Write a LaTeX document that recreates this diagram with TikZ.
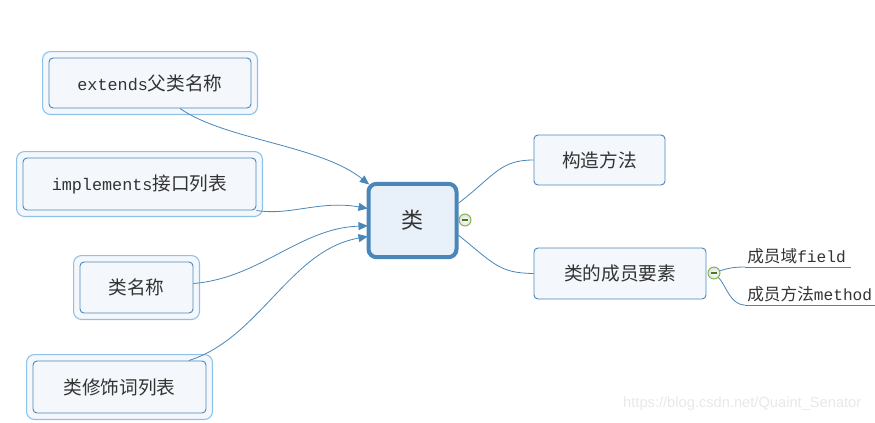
\documentclass[tikz,border=0pt]{standalone}
\usepackage{fontspec}
\setmainfont{Noto Sans CJK SC}
\setmonofont[Scale=0.9]{Liberation Mono}
\newfontfamily\leafmono[Scale=0.97]{Liberation Mono}
\newfontfamily\markfont{Liberation Sans}
\usetikzlibrary{arrows.meta,fit,backgrounds}
\definecolor{boxline}{HTML}{4A86B8}
\definecolor{outerline}{HTML}{8FC0E6}
\definecolor{boxfill}{HTML}{F4F8FC}
\definecolor{clsfill}{HTML}{E8F0FA}
\definecolor{txt}{HTML}{333333}
\definecolor{togglegreen}{HTML}{6AAE2E}
\tikzset{
  topic/.style={draw=boxline, fill=boxfill, rounded corners=3pt, line width=0.7pt,
    text=txt, font=\fontsize{14}{16}\selectfont, inner sep=0pt},
  outerbox/.style={draw=outerline, fill=boxfill, rounded corners=6pt, line width=0.8pt, inner sep=4.5pt},
  central/.style={draw=boxline, fill=clsfill, rounded corners=6pt, line width=3pt,
    text=txt, font=\fontsize{16.5}{18}\selectfont, minimum width=66pt, minimum height=55pt},
  leaf/.style={text=txt, font=\fontsize{12.5}{14}\selectfont, inner xsep=1.5pt, inner ysep=2pt},
  link/.style={draw=boxline, line width=0.6pt},
  toarrow/.style={link, -{Triangle[length=7pt,width=6pt]}},
  toggle/.style={circle, draw=togglegreen, line width=0.6pt, inner color=white, outer color=gray!25,
    minimum size=9pt, inner sep=0pt,
    path picture={\draw[togglegreen!70!black, line width=0.8pt] ([xshift=-2.2pt]path picture bounding box.center) -- ([xshift=2.2pt]path picture bounding box.center);}}
}
\begin{document}
\begin{tikzpicture}[x=0.75pt, y=-0.75pt]
\useasboundingbox (0,0) rectangle (875,422);
% left topics
\node[topic, minimum width=151.5pt, minimum height=37.5pt] (ext) at (150,83) {\texttt{extends}父类名称};
\node[topic, minimum width=174.75pt, minimum height=39pt] (impl) at (139.5,184) {\texttt{implements}接口列表};
\node[topic, minimum width=84.75pt, minimum height=38.25pt] (name) at (136.5,287.5) {类名称};
\node[topic, minimum width=129.75pt, minimum height=39pt] (mod) at (119.5,387) {类修饰词列表};
\begin{scope}[on background layer]
\foreach \n in {ext, impl, name, mod} \node[outerbox, fit=(\n)] {};
\end{scope}
% centre
\node[central] (cls) at (412.5,220.5) {类};
\node[toggle] (m1) at (465,220) {};
% right topics
\node[topic, minimum width=98.25pt, minimum height=37.5pt] (ctor) at (599.5,160) {构造方法};
\node[topic, minimum width=129pt, minimum height=38.25pt] (member) at (620,273.5) {类的成员要素};
\node[toggle] (m2) at (714,273) {};
\node[leaf, anchor=south west] (fld) at (745,267) {成员域{\leafmono field}};
\node[leaf, anchor=south west] (meth) at (745,305) {成员方法{\leafmono method}};
\draw[link] (fld.south west) -- ([xshift=2pt]fld.south east);
\draw[link] (meth.south west) -- ([xshift=2pt]meth.south east);
% arrows into the class
\draw[toarrow] ([xshift=22.5pt]ext.south) .. controls (225,140) and (320,145) .. ([yshift=27pt,xshift=2pt]cls.west);
\draw[toarrow] (impl.south east) .. controls (290,216) and (320,200) .. ([yshift=9pt,xshift=1pt]cls.west);
\draw[toarrow] ([yshift=3pt]name.east) .. controls (260,278) and (300,228) .. ([yshift=-4pt,xshift=1pt]cls.west);
\draw[toarrow] ([xshift=52pt]mod.north) .. controls (260,338) and (290,250) .. ([yshift=-12pt,xshift=1pt]cls.west);
% branches
\draw[link] ([yshift=13pt]cls.east) .. controls (495,175) and (500,160) .. (ctor.west);
\draw[link] ([yshift=-11pt]cls.east) .. controls (495,265) and (500,273) .. (member.west);
\draw[link] (m2) .. controls (728,268) and (735,267) .. (fld.south west);
\draw[link] (m2) .. controls (726,285) and (730,305) .. (meth.south west);
% watermark
\node[text=gray!18, font=\fontsize{11}{12}\selectfont\markfont, anchor=east] (wm) at (866,404) {https://blog.csdn.net/Quaint\_Senator};
\end{tikzpicture}
\end{document}
